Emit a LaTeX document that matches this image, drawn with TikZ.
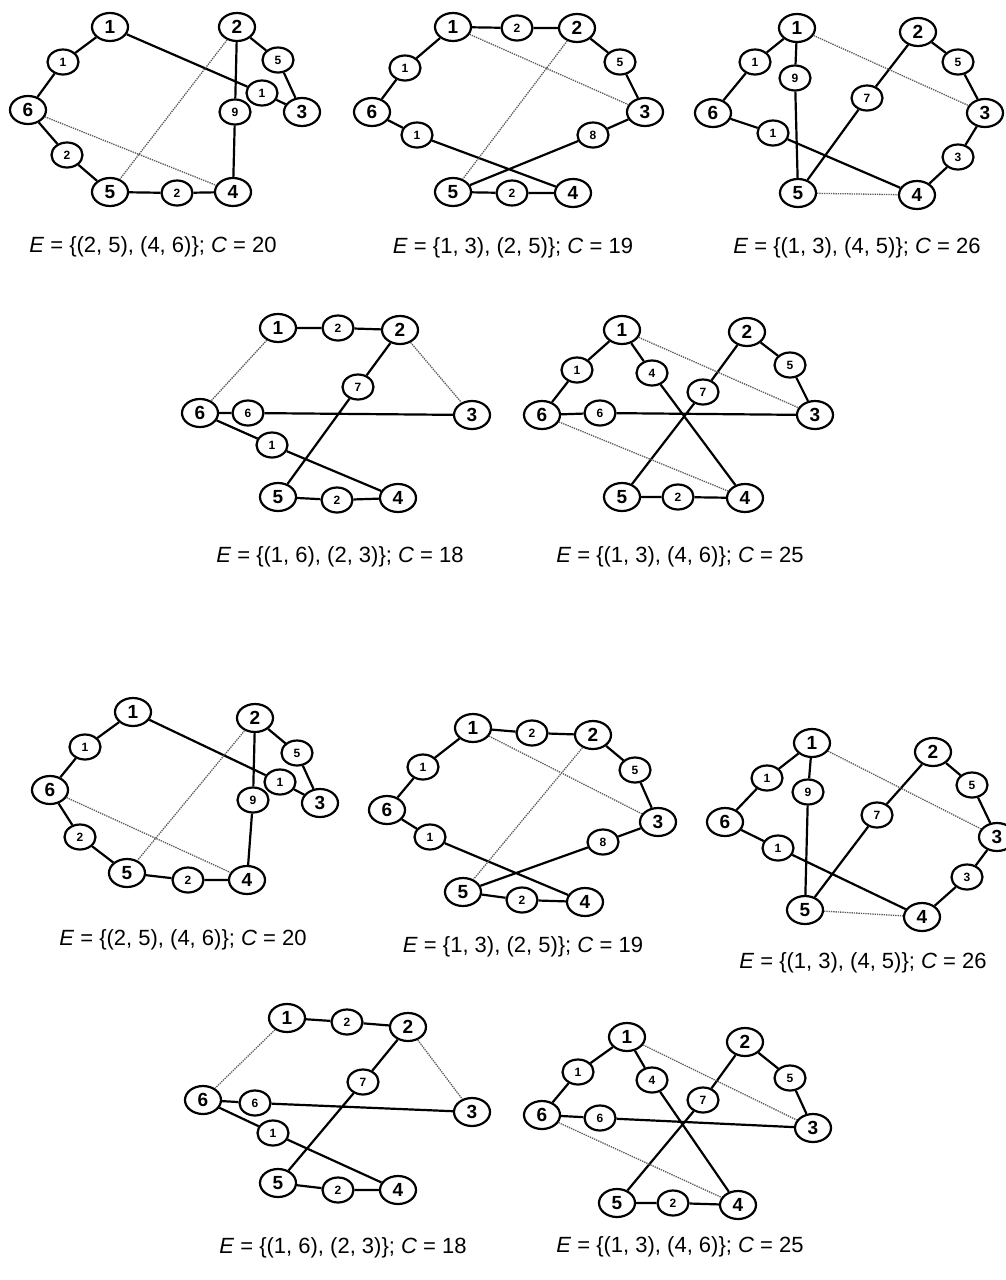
\documentclass[tikz,border=0pt]{standalone}
\usepackage{fontspec}
\setmainfont{Liberation Sans}
\usetikzlibrary{shapes.geometric}
\tikzset{
  big/.style={ellipse, draw, fill=white, line width=2.2pt, minimum width=36pt, minimum height=28pt, inner sep=0pt, font=\fontsize{19}{19}\selectfont\bfseries},
  small/.style={ellipse, draw, fill=white, line width=2.2pt, minimum width=31pt, minimum height=25pt, inner sep=0pt, font=\fontsize{12}{12}\selectfont\bfseries},
  edge/.style={line width=2.2pt},
  extra/.style={line width=1.3pt, densely dotted, black!65},
  captxt/.style={font=\fontsize{22}{22}\selectfont, inner sep=0pt}
}
\begin{document}
\begin{tikzpicture}[x=1pt,y=-1pt]
\useasboundingbox[fill=white] (0,0) rectangle (1006,1280);
% ---------- Graph A ----------
\node[big] (a1) at (110,27) {1};
\node[small] (aw1) at (63,62) {1};
\node[big] (a6) at (28,110) {6};
\node[small] (aw2) at (67,155) {2};
\node[big] (a5) at (110,192) {5};
\node[small] (awb) at (177,193) {2};
\node[big] (a4) at (233,192) {4};
\node[big] (a2) at (237,27) {2};
\node[small] (aw5) at (278,60) {5};
\node[small] (awr) at (262,93) {1};
\node[small] (aw9) at (235,112) {9};
\node[big] (a3) at (302,112) {3};
\draw[edge] (a1)--(aw1) (aw1)--(a6) (a6)--(aw2) (aw2)--(a5) (a5)--(awb) (awb)--(a4) (a4)--(aw9) (aw9)--(a2) (a2)--(aw5) (aw5)--(a3) (a1)--(awr) (awr)--(a3);
\draw[extra] (a2)--(a5) (a6)--(a4);
\node[captxt] (ca) at (153,247) {\textit{E} = \{(2, 5), (4, 6)\}; \textit{C} = 20};
% ---------- Graph B ----------
\node[big] (b1) at (453,27) {1};
\node[small] (bw2) at (517,28) {2};
\node[big] (b2) at (577,28) {2};
\node[small] (bw5) at (620,62) {5};
\node[big] (b3) at (645,112) {3};
\node[small] (bw8) at (593,135) {8};
\node[big] (b5) at (453,192) {5};
\node[small] (bwb) at (512,193) {2};
\node[big] (b4) at (573,193) {4};
\node[big] (b6) at (372,112) {6};
\node[small] (bwa) at (405,68) {1};
\node[small] (bwc) at (417,135) {1};
\draw[edge] (b1)--(bw2) (bw2)--(b2) (b2)--(bw5) (bw5)--(b3) (b3)--(bw8) (bw8)--(b5) (b1)--(bwa) (bwa)--(b6) (b6)--(bwc) (bwc)--(b4) (b5)--(bwb) (bwb)--(b4);
\draw[extra] (b1)--(b3) (b2)--(b5);
\node[captxt] (cb) at (513,248) {\textit{E} = \{1, 3), (2, 5)\}; \textit{C} = 19};
% ---------- Graph C ----------
\node[big] (c1) at (797,28) {1};
\node[small] (cw1) at (755,62) {1};
\node[big] (c6) at (713,113) {6};
\node[small] (cwb) at (773,133) {1};
\node[small] (cw9) at (795,78) {9};
\node[big] (c5) at (798,193) {5};
\node[small] (cw7) at (867,98) {7};
\node[big] (c2) at (918,32) {2};
\node[small] (cw5) at (958,62) {5};
\node[big] (c3) at (985,113) {3};
\node[small] (cw3) at (958,157) {3};
\node[big] (c4) at (917,195) {4};
\draw[edge] (c1)--(cw1) (cw1)--(c6) (c1)--(cw9) (cw9)--(c5) (c6)--(cwb) (cwb)--(c4) (c5)--(cw7) (cw7)--(c2) (c2)--(cw5) (cw5)--(c3) (c3)--(cw3) (cw3)--(c4);
\draw[extra] (c1)--(c3) (c5)--(c4);
\node[captxt] (cc) at (857,248) {\textit{E} = \{(1, 3), (4, 5)\}; \textit{C} = 26};
% ---------- Graph D ----------
\node[big] (d1) at (278,328) {1};
\node[small] (dw2) at (338,328) {2};
\node[big] (d2) at (400,330) {2};
\node[small] (dw7) at (358,387) {7};
\node[big] (d6) at (200,413) {6};
\node[small] (dw6) at (248,413) {6};
\node[big] (d3) at (472,415) {3};
\node[small] (dw1) at (272,445) {1};
\node[big] (d5) at (278,497) {5};
\node[small] (dwb) at (337,500) {2};
\node[big] (d4) at (398,498) {4};
\draw[edge] (d1)--(dw2) (dw2)--(d2) (d2)--(dw7) (dw7)--(d5) (d6)--(dw6) (dw6)--(d3) (d6)--(dw1) (dw1)--(d4) (d5)--(dwb) (dwb)--(d4);
\draw[extra] (d1)--(d6) (d2)--(d3);
\node[captxt] (cd) at (340,557) {\textit{E} = \{(1, 6), (2, 3)\}; \textit{C} = 18};
% ---------- Graph E ----------
\node[big] (e1) at (622,330) {1};
\node[small] (ew1) at (577,370) {1};
\node[big] (e6) at (542,415) {6};
\node[small] (ew6) at (600,413) {6};
\node[small] (ew4) at (652,373) {4};
\node[small] (ew7) at (703,392) {7};
\node[big] (e2) at (747,332) {2};
\node[small] (ew5) at (790,365) {5};
\node[big] (e3) at (815,415) {3};
\node[big] (e5) at (622,497) {5};
\node[small] (ewb) at (678,497) {2};
\node[big] (e4) at (745,498) {4};
\draw[edge] (e1)--(ew1) (ew1)--(e6) (e6)--(ew6) (ew6)--(e3) (e1)--(ew4) (ew4)--(e4) (e2)--(ew7) (ew7)--(e5) (e2)--(ew5) (ew5)--(e3) (e5)--(ewb) (ewb)--(e4);
\draw[extra] (e1)--(e3) (e6)--(e4);
\node[captxt] (ce) at (680,557) {\textit{E} = \{(1, 3), (4, 6)\}; \textit{C} = 25};
% ---------- Graph F ----------
\node[big] (f1) at (133,712) {1};
\node[small] (fw1) at (85,747) {1};
\node[big] (f6) at (50,790) {6};
\node[small] (fw2) at (80,837) {2};
\node[big] (f5) at (127,873) {5};
\node[small] (fwb) at (188,880) {2};
\node[big] (f4) at (247,880) {4};
\node[big] (f2) at (255,718) {2};
\node[small] (fw5) at (297,753) {5};
\node[small] (fwr) at (280,782) {1};
\node[small] (fw9) at (253,800) {9};
\node[big] (f3) at (320,803) {3};
\draw[edge] (f1)--(fw1) (fw1)--(f6) (f6)--(fw2) (fw2)--(f5) (f5)--(fwb) (fwb)--(f4) (f4)--(fw9) (fw9)--(f2) (f2)--(fw5) (fw5)--(f3) (f1)--(fwr) (fwr)--(f3);
\draw[extra] (f2)--(f5) (f6)--(f4);
\node[captxt] (cf) at (183,940) {\textit{E} = \{(2, 5), (4, 6)\}; \textit{C} = 20};
% ---------- Graph G ----------
\node[big] (g1) at (473,728) {1};
\node[small] (gw2) at (532,733) {2};
\node[big] (g2) at (593,735) {2};
\node[small] (gw5) at (635,770) {5};
\node[big] (g3) at (658,822) {3};
\node[small] (gw8) at (603,842) {8};
\node[big] (g6) at (387,810) {6};
\node[small] (gwa) at (423,767) {1};
\node[small] (gwc) at (430,837) {1};
\node[big] (g5) at (463,892) {5};
\node[small] (gwb) at (522,900) {2};
\node[big] (g4) at (585,902) {4};
\draw[edge] (g1)--(gw2) (gw2)--(g2) (g2)--(gw5) (gw5)--(g3) (g3)--(gw8) (gw8)--(g5) (g1)--(gwa) (gwa)--(g6) (g6)--(gwc) (gwc)--(g4) (g5)--(gwb) (gwb)--(g4);
\draw[extra] (g1)--(g3) (g2)--(g5);
\node[captxt] (cg) at (523,947) {\textit{E} = \{1, 3), (2, 5)\}; \textit{C} = 19};
% ---------- Graph H ----------
\node[big] (h1) at (812,743) {1};
\node[small] (hw1) at (767,778) {1};
\node[big] (h6) at (725,822) {6};
\node[small] (hwb) at (778,848) {1};
\node[small] (hw9) at (808,792) {9};
\node[big] (h5) at (805,910) {5};
\node[small] (hw7) at (877,815) {7};
\node[big] (h2) at (933,752) {2};
\node[small] (hw5) at (972,785) {5};
\node[big] (h3) at (997,837) {3};
\node[small] (hw3) at (967,877) {3};
\node[big] (h4) at (922,917) {4};
\draw[edge] (h1)--(hw1) (hw1)--(h6) (h1)--(hw9) (hw9)--(h5) (h6)--(hwb) (hwb)--(h4) (h5)--(hw7) (hw7)--(h2) (h2)--(hw5) (hw5)--(h3) (h3)--(hw3) (hw3)--(h4);
\draw[extra] (h1)--(h3) (h5)--(h4);
\node[captxt] (ch) at (863,963) {\textit{E} = \{(1, 3), (4, 5)\}; \textit{C} = 26};
% ---------- Graph I ----------
\node[big] (i1) at (287,1018) {1};
\node[small] (iw2) at (347,1022) {2};
\node[big] (i2) at (408,1027) {2};
\node[small] (iw7) at (363,1082) {7};
\node[big] (i6) at (203,1100) {6};
\node[small] (iw6) at (255,1103) {6};
\node[big] (i3) at (472,1112) {3};
\node[small] (iw1) at (273,1133) {1};
\node[big] (i5) at (278,1183) {5};
\node[small] (iwb) at (338,1190) {2};
\node[big] (i4) at (398,1190) {4};
\draw[edge] (i1)--(iw2) (iw2)--(i2) (i2)--(iw7) (iw7)--(i5) (i6)--(iw6) (iw6)--(i3) (i6)--(iw1) (iw1)--(i4) (i5)--(iwb) (iwb)--(i4);
\draw[extra] (i1)--(i6) (i2)--(i3);
\node[captxt] (ci) at (343,1248) {\textit{E} = \{(1, 6), (2, 3)\}; \textit{C} = 18};
% ---------- Graph J ----------
\node[big] (j1) at (627,1037) {1};
\node[small] (jw1) at (578,1072) {1};
\node[big] (j6) at (542,1115) {6};
\node[small] (jw6) at (600,1118) {6};
\node[small] (jw4) at (652,1080) {4};
\node[small] (jw7) at (703,1100) {7};
\node[big] (j2) at (745,1042) {2};
\node[small] (jw5) at (790,1078) {5};
\node[big] (j3) at (813,1128) {3};
\node[big] (j5) at (617,1203) {5};
\node[small] (jwb) at (673,1203) {2};
\node[big] (j4) at (738,1205) {4};
\draw[edge] (j1)--(jw1) (jw1)--(j6) (j6)--(jw6) (jw6)--(j3) (j1)--(jw4) (jw4)--(j4) (j2)--(jw7) (jw7)--(j5) (j2)--(jw5) (jw5)--(j3) (j5)--(jwb) (jwb)--(j4);
\draw[extra] (j1)--(j3) (j6)--(j4);
\node[captxt] (cj) at (680,1247) {\textit{E} = \{(1, 3), (4, 6)\}; \textit{C} = 25};
\end{tikzpicture}
\end{document}
